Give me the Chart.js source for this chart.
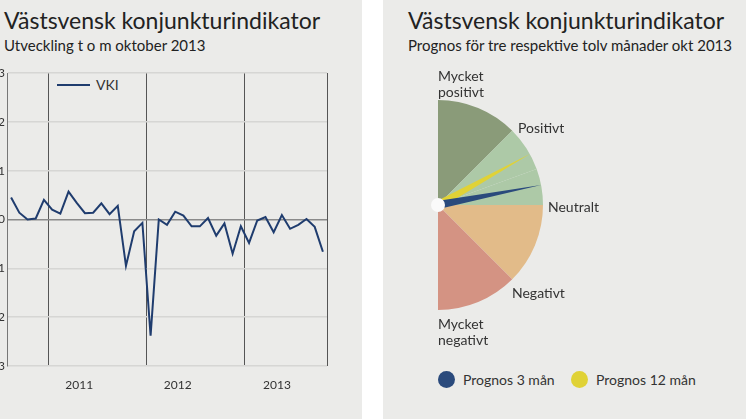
<!DOCTYPE html>
<html><head><meta charset="utf-8">
<script src="https://cdn.jsdelivr.net/npm/chart.js@4.4.0/dist/chart.umd.min.js"></script>
<style>
body{margin:0;width:746px;height:419px;background:#fff;position:relative;overflow:hidden;font-family:Lato,"Open Sans",sans-serif;color:#222}
.panel{position:absolute;top:0;height:419px;background:#ebebe9}
.t{position:absolute;font-size:23px;white-space:nowrap}
.s{position:absolute;font-size:15px;white-space:nowrap}
.lab{position:absolute;font-size:14px;line-height:16px;color:#333;white-space:nowrap}
canvas{position:absolute}
.dot{position:absolute;width:17px;height:17px;border-radius:50%}
</style></head><body>
<div class="panel" style="left:0;width:362px"></div>
<div class="panel" style="left:383px;width:363px"></div>
<div class="t" style="left:4px;top:6px">Västsvensk konjunkturindikator</div>
<div class="s" style="left:4px;top:36px">Utveckling t o m oktober 2013</div>
<div class="t" style="left:408px;top:6px">Västsvensk konjunkturindikator</div>
<div class="s" style="left:408px;top:36px">Prognos för tre respektive tolv månader okt 2013</div>
<div style="position:absolute;left:57px;top:84px;width:33px;height:2px;background:#1f3c6e"></div>
<div class="lab" style="left:96px;top:77px;font-size:14px">VKI</div>
<canvas id="line" style="left:-8px;top:60px;width:348px;height:330px"></canvas>
<canvas id="gauge" style="left:333px;top:100px;width:210px;height:210px"></canvas>
<div class="lab" style="left:438px;top:68px">Mycket<br>positivt</div>
<div class="lab" style="left:518px;top:120px">Positivt</div>
<div class="lab" style="left:548px;top:199px">Neutralt</div>
<div class="lab" style="left:512px;top:285px">Negativt</div>
<div class="lab" style="left:438px;top:316px">Mycket<br>negativt</div>
<div class="dot" style="left:438px;top:371px;background:#2a4a7c"></div>
<div class="lab" style="left:463px;top:372px">Prognos 3 mån</div>
<div class="dot" style="left:571px;top:371px;background:#e0d236"></div>
<div class="lab" style="left:596px;top:372px">Prognos 12 mån</div>
<script>
// VKI monthly, Aug 2010 - Oct 2013
const vki = [0.45,0.14,0.0,0.02,0.4,0.2,0.12,0.57,0.34,0.13,0.14,0.33,0.11,0.28,
  -0.95,-0.24,-0.07,-2.38,0.0,-0.11,0.16,0.08,-0.14,-0.14,0.03,-0.33,-0.08,-0.7,
  -0.14,-0.48,-0.02,0.05,-0.26,0.09,-0.19,-0.11,0.01,-0.15,-0.66];
const yearLines = [4.5, 16.5, 28.5, 38.5];
const yearLabels = ['2011', '2012', '2013'];
const yearLabelPos = [8.3, 20.3, 32.4];
const yTicks = [3, 2, 1, 0, -1, -2, -3];

// gauge sectors (degrees clockwise from top) and needle angles
const sectorLabels = ['Mycket positivt', 'Positivt', 'Neutralt', 'Negativt', 'Mycket negativt', ''];
const sectorSizes = [45, 25, 20, 45, 45, 180];
const sectorColors = ['#8a9b79', '#adc9a7', '#adc9a7', '#e2bb89', '#d49383', 'rgba(0,0,0,0)'];
const needle3 = 79;
const needle12 = 61;

new Chart(document.getElementById('line'), {
  type: 'line',
  data: { datasets: [{ data: vki.map((v, i) => ({ x: i, y: v })), borderColor: '#1f3c6e',
    borderWidth: 2, pointRadius: 0, tension: 0 }] },
  options: {
    animation: false, responsive: false, devicePixelRatio: 1,
    layout: { padding: { top: 13, right: 13 } },
    plugins: { legend: { display: false }, tooltip: { enabled: false } },
    scales: {
      x: { type: 'linear', min: -0.5, max: 38.5,
        afterBuildTicks: a => { a.ticks = yearLines.map(v => ({ value: v })); },
        ticks: { display: false },
        grid: { color: '#555', lineWidth: 1, drawTicks: false },
        border: { display: false },
        afterFit: a => { a.height = 0; } },
      x2: { type: 'linear', position: 'bottom', min: -0.5, max: 38.5,
        afterBuildTicks: a => { a.ticks = yearLabelPos.map(v => ({ value: v })); },
        ticks: { callback: (v, i) => yearLabels[i], color: '#333', font: { family: 'Lato', size: 12 }, padding: 4, maxRotation: 0, autoSkip: false },
        grid: { display: false }, border: { display: false },
        afterFit: a => { a.height = 24; } },
      y: { min: -3, max: 3,
        afterBuildTicks: a => { a.ticks = yTicks.map(v => ({ value: v })); },
        ticks: { color: '#333', font: { family: 'Lato', size: 12 }, padding: 2 },
        grid: { color: c => c.tick.value === 0 ? '#8a8a8a' : '#d6d6d4', lineWidth: c => c.tick.value === 0 ? 1.5 : 1.5, drawTicks: false },
        border: { color: '#777' },
        afterFit: a => { a.width = 15; } }
    }
  }
});

const needles = {
  id: 'needles',
  afterDatasetsDraw(chart) {
    const arc = chart.getDatasetMeta(0).data[0];
    const cx = arc.x, cy = arc.y, r = arc.outerRadius;
    const ctx = chart.ctx;
    const draw = (deg, color) => {
      const a = (deg - 90) * Math.PI / 180, p = a + Math.PI / 2, w = 4;
      ctx.beginPath();
      ctx.moveTo(cx + Math.cos(p) * w, cy + Math.sin(p) * w);
      ctx.lineTo(cx + Math.cos(a) * r, cy + Math.sin(a) * r);
      ctx.lineTo(cx - Math.cos(p) * w, cy - Math.sin(p) * w);
      ctx.closePath();
      ctx.fillStyle = color; ctx.fill();
    };
    draw(needle12, '#e0d236');
    draw(needle3, '#2a4a7c');
    ctx.beginPath(); ctx.arc(cx, cy, 7, 0, Math.PI * 2);
    ctx.fillStyle = '#fafafa'; ctx.fill();
  }
};

new Chart(document.getElementById('gauge'), {
  type: 'doughnut',
  data: { labels: sectorLabels, datasets: [{ data: sectorSizes, backgroundColor: sectorColors, borderWidth: 0 }] },
  options: { animation: false, responsive: false, devicePixelRatio: 1, cutout: 0, rotation: 0,
    plugins: { legend: { display: false }, tooltip: { enabled: false } } },
  plugins: [needles]
});
</script>
</body></html>
